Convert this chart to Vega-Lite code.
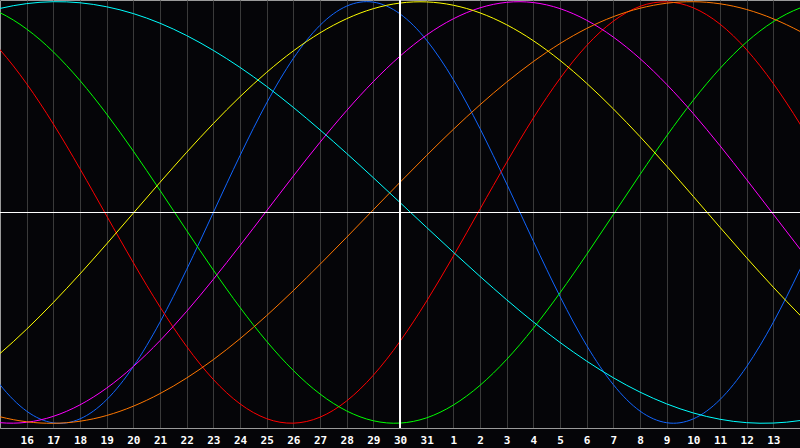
{
  "$schema": "https://vega.github.io/schema/vega-lite/v6.json",
  "width": 800,
  "height": 428,
  "autosize": {"type": "none"},
  "padding": {"left": 0, "top": 0, "right": 0, "bottom": 20},
  "background": "#050508",
  "config": {"view": {"stroke": "#9a9a9a", "strokeWidth": 1, "fill": "#050508"}},
  "datasets": {
    "cycles": [
      {"cycle":"physical","t":-4,"v":0.136},{"cycle":"physical","t":-2,"v":-0.398},{"cycle":"physical","t":0,"v":-0.817},{"cycle":"physical","t":2,"v":-0.998},{"cycle":"physical","t":4,"v":-0.888},{"cycle":"physical","t":6,"v":-0.520},{"cycle":"physical","t":8,"v":0.000},{"cycle":"physical","t":10,"v":0.520},{"cycle":"physical","t":12,"v":0.888},{"cycle":"physical","t":14,"v":0.998},{"cycle":"physical","t":16,"v":0.817},{"cycle":"physical","t":18,"v":0.398},{"cycle":"physical","t":20,"v":-0.136},{"cycle":"physical","t":22,"v":-0.631},{"cycle":"physical","t":24,"v":-0.942},{"cycle":"physical","t":26,"v":-0.979},{"cycle":"physical","t":28,"v":-0.731},{"cycle":"physical","t":30,"v":-0.270},{"cycle":"physical","t":32,"v":0.270},{"cycle":"physical","t":34,"v":0.731},
      {"cycle":"emotional","t":-4,"v":0.978},{"cycle":"emotional","t":-2,"v":0.971},{"cycle":"emotional","t":0,"v":0.772},{"cycle":"emotional","t":2,"v":0.420},{"cycle":"emotional","t":4,"v":-0.016},{"cycle":"emotional","t":6,"v":-0.448},{"cycle":"emotional","t":8,"v":-0.792},{"cycle":"emotional","t":10,"v":-0.978},{"cycle":"emotional","t":12,"v":-0.971},{"cycle":"emotional","t":14,"v":-0.772},{"cycle":"emotional","t":16,"v":-0.420},{"cycle":"emotional","t":18,"v":0.016},{"cycle":"emotional","t":20,"v":0.448},{"cycle":"emotional","t":22,"v":0.792},{"cycle":"emotional","t":24,"v":0.978},{"cycle":"emotional","t":26,"v":0.971},{"cycle":"emotional","t":28,"v":0.772},{"cycle":"emotional","t":30,"v":0.420},{"cycle":"emotional","t":32,"v":-0.016},{"cycle":"emotional","t":34,"v":-0.448},
      {"cycle":"intellectual","t":-4,"v":0.906},{"cycle":"intellectual","t":-2,"v":0.998},{"cycle":"intellectual","t":0,"v":0.948},{"cycle":"intellectual","t":2,"v":0.762},{"cycle":"intellectual","t":4,"v":0.467},{"cycle":"intellectual","t":6,"v":0.105},{"cycle":"intellectual","t":8,"v":-0.273},{"cycle":"intellectual","t":10,"v":-0.611},{"cycle":"intellectual","t":12,"v":-0.861},{"cycle":"intellectual","t":14,"v":-0.988},{"cycle":"intellectual","t":16,"v":-0.974},{"cycle":"intellectual","t":18,"v":-0.820},{"cycle":"intellectual","t":20,"v":-0.549},{"cycle":"intellectual","t":22,"v":-0.199},{"cycle":"intellectual","t":24,"v":0.180},{"cycle":"intellectual","t":26,"v":0.533},{"cycle":"intellectual","t":28,"v":0.809},{"cycle":"intellectual","t":30,"v":0.970},{"cycle":"intellectual","t":32,"v":0.991},{"cycle":"intellectual","t":34,"v":0.871},
      {"cycle":"intuitive","t":-4,"v":-0.741},{"cycle":"intuitive","t":-2,"v":-0.919},{"cycle":"intuitive","t":0,"v":-0.997},{"cycle":"intuitive","t":2,"v":-0.967},{"cycle":"intuitive","t":4,"v":-0.833},{"cycle":"intuitive","t":6,"v":-0.608},{"cycle":"intuitive","t":8,"v":-0.317},{"cycle":"intuitive","t":10,"v":0.008},{"cycle":"intuitive","t":12,"v":0.333},{"cycle":"intuitive","t":14,"v":0.621},{"cycle":"intuitive","t":16,"v":0.842},{"cycle":"intuitive","t":18,"v":0.971},{"cycle":"intuitive","t":20,"v":0.996},{"cycle":"intuitive","t":22,"v":0.912},{"cycle":"intuitive","t":24,"v":0.730},{"cycle":"intuitive","t":26,"v":0.469},{"cycle":"intuitive","t":28,"v":0.156},{"cycle":"intuitive","t":30,"v":-0.173},{"cycle":"intuitive","t":32,"v":-0.483},{"cycle":"intuitive","t":34,"v":-0.741},
      {"cycle":"aesthetic","t":-4,"v":-0.968},{"cycle":"aesthetic","t":-2,"v":-0.855},{"cycle":"aesthetic","t":0,"v":-0.669},{"cycle":"aesthetic","t":2,"v":-0.427},{"cycle":"aesthetic","t":4,"v":-0.149},{"cycle":"aesthetic","t":6,"v":0.143},{"cycle":"aesthetic","t":8,"v":0.422},{"cycle":"aesthetic","t":10,"v":0.665},{"cycle":"aesthetic","t":12,"v":0.852},{"cycle":"aesthetic","t":14,"v":0.967},{"cycle":"aesthetic","t":16,"v":0.999},{"cycle":"aesthetic","t":18,"v":0.947},{"cycle":"aesthetic","t":20,"v":0.815},{"cycle":"aesthetic","t":22,"v":0.613},{"cycle":"aesthetic","t":24,"v":0.360},{"cycle":"aesthetic","t":26,"v":0.076},{"cycle":"aesthetic","t":28,"v":-0.215},{"cycle":"aesthetic","t":30,"v":-0.487},{"cycle":"aesthetic","t":32,"v":-0.718},{"cycle":"aesthetic","t":34,"v":-0.888},
      {"cycle":"awareness","t":-4,"v":-0.716},{"cycle":"awareness","t":-2,"v":-0.873},{"cycle":"awareness","t":0,"v":-0.969},{"cycle":"awareness","t":2,"v":-1.000},{"cycle":"awareness","t":4,"v":-0.963},{"cycle":"awareness","t":6,"v":-0.859},{"cycle":"awareness","t":8,"v":-0.698},{"cycle":"awareness","t":10,"v":-0.489},{"cycle":"awareness","t":12,"v":-0.246},{"cycle":"awareness","t":14,"v":0.013},{"cycle":"awareness","t":16,"v":0.271},{"cycle":"awareness","t":18,"v":0.511},{"cycle":"awareness","t":20,"v":0.716},{"cycle":"awareness","t":22,"v":0.873},{"cycle":"awareness","t":24,"v":0.969},{"cycle":"awareness","t":26,"v":1.000},{"cycle":"awareness","t":28,"v":0.963},{"cycle":"awareness","t":30,"v":0.859},{"cycle":"awareness","t":32,"v":0.698},{"cycle":"awareness","t":34,"v":0.489},
      {"cycle":"spiritual","t":-4,"v":0.746},{"cycle":"spiritual","t":-2,"v":0.881},{"cycle":"spiritual","t":0,"v":0.968},{"cycle":"spiritual","t":2,"v":1.000},{"cycle":"spiritual","t":4,"v":0.976},{"cycle":"spiritual","t":6,"v":0.898},{"cycle":"spiritual","t":8,"v":0.769},{"cycle":"spiritual","t":10,"v":0.598},{"cycle":"spiritual","t":12,"v":0.392},{"cycle":"spiritual","t":14,"v":0.165},{"cycle":"spiritual","t":16,"v":-0.071},{"cycle":"spiritual","t":18,"v":-0.303},{"cycle":"spiritual","t":20,"v":-0.519},{"cycle":"spiritual","t":22,"v":-0.705},{"cycle":"spiritual","t":24,"v":-0.852},{"cycle":"spiritual","t":26,"v":-0.951},{"cycle":"spiritual","t":28,"v":-0.997},{"cycle":"spiritual","t":30,"v":-0.987},{"cycle":"spiritual","t":32,"v":-0.922},{"cycle":"spiritual","t":34,"v":-0.805}
    ]
  },
  "data": {"name": "cycles"},
  "encoding": {
    "x": {
      "field": "t", "type": "quantitative",
      "scale": {"domain": [0, 30], "nice": false, "zero": false},
      "axis": {
        "values": [1,2,3,4,5,6,7,8,9,10,11,12,13,14,15,16,17,18,19,20,21,22,23,24,25,26,27,28,29],
        "title": null, "grid": true, "gridColor": "#3a3a3a", "gridWidth": 1,
        "ticks": false, "domain": true, "domainColor": "#9a9a9a",
        "labelColor": "#ffffff", "labelFont": "DejaVu Sans Mono", "labelFontWeight": "bold", "labelFontSize": 11,
        "labelBaseline": "alphabetic", "labelPadding": 15, "labelFlush": false, "labelOverlap": false,
        "labelExpr": "datum.value <= 16 ? datum.value + 15 : datum.value - 16"
      }
    },
    "y": {
      "field": "v", "type": "quantitative",
      "scale": {"domain": [-1.0223, 1.0081], "nice": false, "zero": false},
      "axis": null
    }
  },
  "layer": [
    {
      "mark": {"type": "line", "interpolate": "natural", "clip": true, "strokeWidth": 1},
      "encoding": {
        "color": {
          "field": "cycle", "type": "nominal", "legend": null,
          "scale": {
            "domain": ["physical","emotional","intellectual","intuitive","aesthetic","awareness","spiritual"],
            "range": ["#1166ff","#ff0000","#00ff00","#ff00ff","#ffff00","#ff7700","#00ffff"]
          }
        }
      }
    },
    {"mark": {"type": "rule", "color": "#ffffff", "strokeWidth": 1}, "encoding": {"x": {"datum": 15}, "y": null}},
    {"mark": {"type": "rule", "color": "#ffffff", "strokeWidth": 1}, "encoding": {"y": {"datum": 0}, "x": null}}
  ]
}
